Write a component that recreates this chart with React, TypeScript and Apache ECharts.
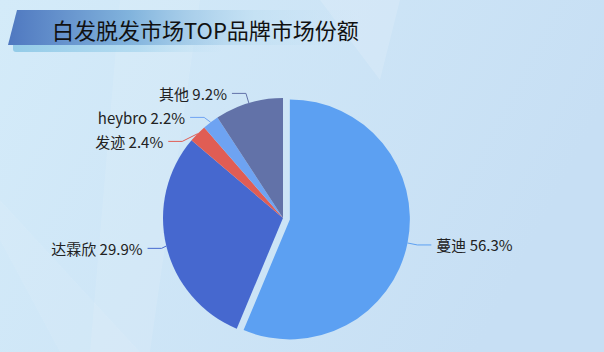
import React, { useEffect, useRef } from "react";
import * as echarts from "echarts";

const TITLE = "白发脱发市场TOP品牌市场份额";
const BRANDS = ["蔓迪", "达霖欣", "发迹", "heybro", "其他"];
const SHARES = [56.3, 29.9, 2.4, 2.2, 9.2];
const COLORS = ["#5ca0f2", "#4668cf", "#e05d54", "#6ea3f2", "#6272a8"];

export default function App() {
  const ref = useRef<HTMLDivElement>(null);
  useEffect(() => {
    document.body.style.margin = "0";
    if (!ref.current) return;
    const chart = echarts.init(ref.current, null, { renderer: "svg" });
    const data = BRANDS.map((name, i) => ({
      name,
      value: SHARES[i],
      selected: i === 0,
      itemStyle: { color: COLORS[i] },
    }));
    chart.setOption({
      animation: false,
      backgroundColor: {
        type: "linear",
        x: 0,
        y: 0,
        x2: 1,
        y2: 0.3,
        colorStops: [
          { offset: 0, color: "#d4ebf9" },
          { offset: 1, color: "#c7dff4" },
        ],
      },
      graphic: [
        {
          type: "polygon",
          silent: true,
          z: -10,
          shape: { points: [[120, 0], [200, 0], [150, 352], [90, 352]] },
          style: { fill: "rgba(255,255,255,0.10)" },
        },
        {
          type: "polygon",
          silent: true,
          z: -10,
          shape: { points: [[320, 0], [400, 0], [380, 80]] },
          style: { fill: "rgba(255,255,255,0.14)" },
        },
        {
          type: "polygon",
          silent: true,
          z: -10,
          shape: { points: [[60, 352], [140, 352], [0, 200], [0, 240]] },
          style: { fill: "rgba(255,255,255,0.08)" },
        },
        {
          type: "rect",
          silent: true,
          z: -5,
          shape: { x: 13, y: 40, width: 210, height: 12, r: 3 },
          style: {
            fill: {
              type: "linear",
              x: 0,
              y: 0,
              x2: 1,
              y2: 0,
              colorStops: [
                { offset: 0, color: "rgba(140,200,230,0.9)" },
                { offset: 0.6, color: "rgba(160,210,236,0.6)" },
                { offset: 1, color: "rgba(180,220,240,0)" },
              ],
            },
          },
        },
        {
          type: "polygon",
          silent: true,
          z: -4,
          shape: {
            points: [[17, 10], [360, 10], [360, 45], [8, 45]],
          },
          style: {
            fill: {
              type: "linear",
              x: 0,
              y: 0,
              x2: 1,
              y2: 0,
              colorStops: [
                { offset: 0, color: "#4f78c0" },
                { offset: 0.35, color: "#82b4dd" },
                { offset: 0.7, color: "rgba(190,222,242,0.6)" },
                { offset: 1, color: "rgba(200,226,244,0)" },
              ],
            },
          },
        },
      ],
      title: {
        text: TITLE,
        left: 47,
        top: 13,
        textStyle: {
          fontSize: 22,
          fontWeight: "normal",
          color: "#111",
          fontFamily: "Noto Sans CJK SC",
        },
      },
      series: [
        {
          type: "pie",
          center: [283, 218],
          radius: 120,
          startAngle: 90,
          clockwise: true,
          selectedMode: "single",
          selectedOffset: 7,
          data,
          label: {
            formatter: "{b} {c}%",
            fontSize: 15,
            lineHeight: 16,
            padding: [3, 0],
            color: "#222",
            fontFamily: "Noto Sans CJK SC",
          },
          labelLine: { length: 10, length2: 14 },
          itemStyle: { borderWidth: 0 },
          emphasis: { disabled: true },
        },
      ],
    });
    return () => chart.dispose();
  }, []);
  return <div ref={ref} style={{ width: 604, height: 352 }} />;
}
